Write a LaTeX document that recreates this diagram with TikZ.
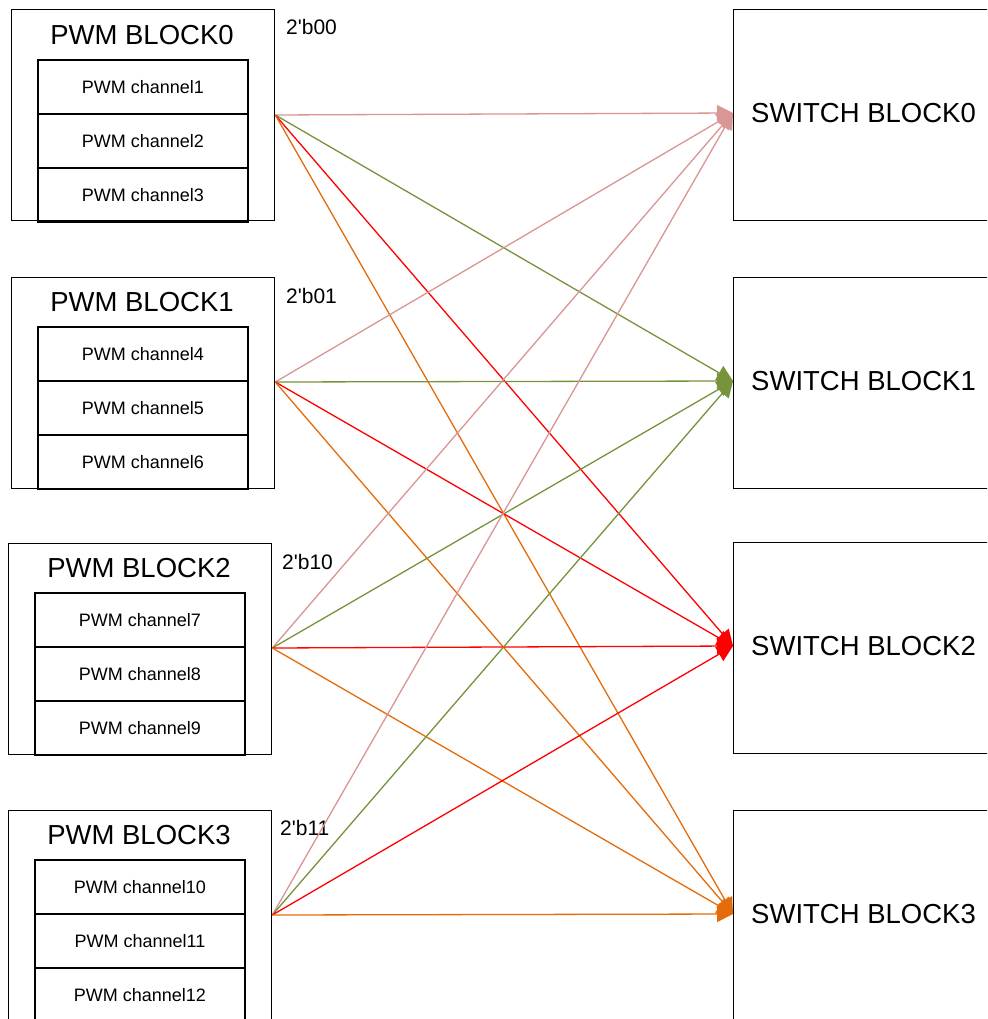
\documentclass[tikz,border=0pt]{standalone}
\usepackage{fontspec}
\setmainfont{Liberation Sans}
\usetikzlibrary{arrows.meta}
\definecolor{cpink}{HTML}{D99694}
\definecolor{cgreen}{HTML}{77933C}
\definecolor{cred}{HTML}{FF0000}
\definecolor{corange}{HTML}{E46C0A}
\begin{document}
\begin{tikzpicture}[x=1pt,y=-1pt,
  outerbox/.style={draw, line width=1.3pt, minimum width=263pt, minimum height=211pt, inner sep=0pt, anchor=north west},
  chanbox/.style={draw, line width=2pt, minimum width=210pt, minimum height=54pt, inner sep=0pt, anchor=north west, font=\fontsize{18}{21}\selectfont},
  swbox/.style={draw, line width=1.3pt, minimum width=280pt, minimum height=211pt, inner sep=0pt, anchor=north west},
  titletext/.style={font=\fontsize{27.5}{32}\selectfont, inner sep=0pt},
  swtext/.style={font=\fontsize{27.5}{32}\selectfont, inner sep=0pt, anchor=west},
  codetext/.style={font=\fontsize{21}{24}\selectfont, inner sep=0pt, anchor=west},
  conn/.style={line width=1.3pt, -{Triangle[length=16pt,width=16pt]}}]
\useasboundingbox (0,0) rectangle (987,1019);
\clip (0,0) rectangle (987,1019);
\fill[white] (0,0) rectangle (987,1019);

% PWM blocks
\node[outerbox] (pwm0) at (11,9) {};
\node[titletext] (pwm0t) at (142,35) {PWM BLOCK0};
\node[chanbox] (c1) at (37,59) {PWM channel1};
\node[chanbox] (c2) at (37,113) {PWM channel2};
\node[chanbox] (c3) at (37,167) {PWM channel3};
\node[codetext] (l0) at (286,27) {2\textquotesingle b00};

\node[outerbox] (pwm1) at (11,277) {};
\node[titletext] (pwm1t) at (142,302) {PWM BLOCK1};
\node[chanbox] (c4) at (37,326) {PWM channel4};
\node[chanbox] (c5) at (37,380) {PWM channel5};
\node[chanbox] (c6) at (37,434) {PWM channel6};
\node[codetext] (l1) at (286,296) {2\textquotesingle b01};

\node[outerbox] (pwm2) at (8,543) {};
\node[titletext] (pwm2t) at (139,568) {PWM BLOCK2};
\node[chanbox] (c7) at (34,592) {PWM channel7};
\node[chanbox] (c8) at (34,646) {PWM channel8};
\node[chanbox] (c9) at (34,700) {PWM channel9};
\node[codetext] (l2) at (282,562) {2\textquotesingle b10};

\node[outerbox] (pwm3) at (8,810) {};
\node[titletext] (pwm3t) at (139,835) {PWM BLOCK3};
\node[chanbox] (c10) at (34,859) {PWM channel10};
\node[chanbox] (c11) at (34,913) {PWM channel11};
\node[chanbox] (c12) at (34,967) {PWM channel12};
\node[codetext] (l3) at (280,828) {2\textquotesingle b11};

% switch blocks
\node[swbox] (sw0) at (733,9) {};
\node[swtext] (sw0t) at (751,113) {SWITCH BLOCK0};
\node[swbox] (sw1) at (733,277) {};
\node[swtext] (sw1t) at (751,381) {SWITCH BLOCK1};
\node[swbox] (sw2) at (733,542) {};
\node[swtext] (sw2t) at (751,646) {SWITCH BLOCK2};
\node[swbox] (sw3) at (733,810) {};
\node[swtext] (sw3t) at (751,914) {SWITCH BLOCK3};

% connection points
\coordinate (s0) at (pwm0.east |- c1.south);
\coordinate (s1) at (pwm1.east |- c4.south);
\coordinate (s2) at (pwm2.east |- c7.south);
\coordinate (s3) at (pwm3.east |- c10.south);
\coordinate (t0) at (sw0.west |- sw0t.west);
\coordinate (t1) at (sw1.west |- sw1t.west);
\coordinate (t2) at (sw2.west |- sw2t.west);
\coordinate (t3) at (sw3.west |- sw3t.west);

% connectors
\foreach \s in {0,1,2,3}{
  \draw[conn, cpink] (s\s) -- (t0);
  \draw[conn, cgreen] (s\s) -- (t1);
  \draw[conn, cred] (s\s) -- (t2);
  \draw[conn, corange] (s\s) -- (t3);
}
\end{tikzpicture}
\end{document}
